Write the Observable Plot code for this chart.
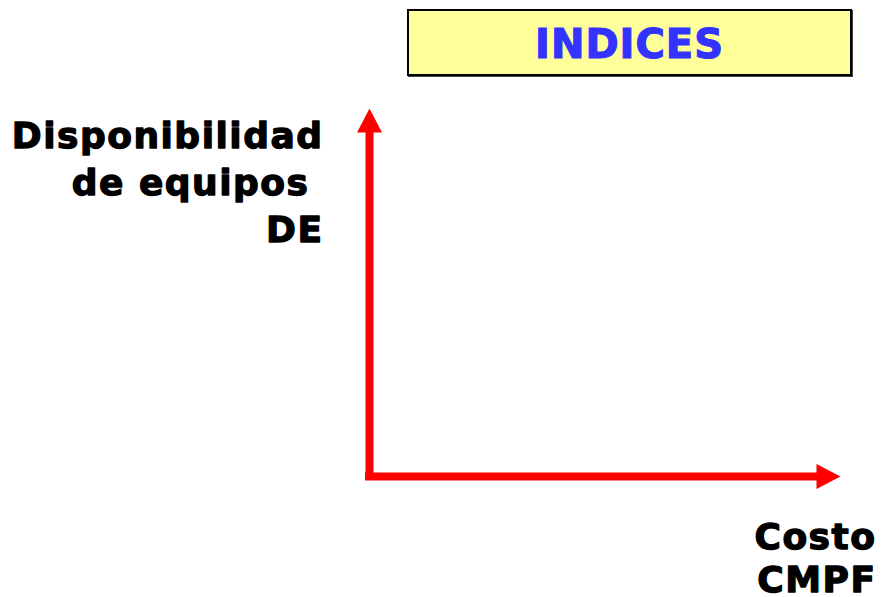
<!DOCTYPE html>
<html>
<head>
<meta charset="utf-8">
<script src="https://cdn.jsdelivr.net/npm/d3@7"></script>
<script src="https://cdn.jsdelivr.net/npm/@observablehq/plot@0.6"></script>
<style>
  html, body { margin: 0; padding: 0; background: #fff; }
  #title {
    margin: 9px 0 4px 407px;
    width: 445px; height: 67px;
    box-sizing: border-box;
    border: 2px solid #000;
    box-shadow: 1px 1px 0 #444;
    background: #ffff99;
    color: #3333ff;
    font: bold 40px "DejaVu Sans", sans-serif;
    letter-spacing: 1px;
    -webkit-text-stroke: 1.2px #3333ff;
    text-align: center;
    line-height: 66px;
  }
  #chart svg { display: block; }
  #chart svg text { letter-spacing: 1.5px; white-space: pre; }
</style>
</head>
<body>
<div id="title"></div>
<div id="chart"></div>
<script>
// ---- content ----
const titleText = "INDICES";
const yLabelLines = ["Disponibilidad", "de equipos ", "DE"];
const xLabelLines = ["Costo", "CMPF"];
// axes in abstract units: origin at 0, arrow tips at 1
const axisNames = ["x", "y"];
const axisStart = [0, 0];
const axisEnd = [1, 1];

document.getElementById("title").textContent = titleText;

// filled arrowhead symbol: tip at the point, pointing up
const arrowHead = {
  draw(ctx) {
    ctx.moveTo(0, 0);
    ctx.lineTo(12.5, 24);
    ctx.lineTo(-12.5, 24);
    ctx.closePath();
  }
};

const yAxis = [{x: axisStart[0], y1: axisEnd[1], y2: axisStart[1]}];
const xAxis = [{y: axisStart[1], x1: axisStart[0], x2: axisEnd[0]}];
const heads = [
  {x: axisStart[0], y: axisEnd[1], rotate: 0},
  {x: axisEnd[0], y: axisStart[1], rotate: 90}
];
const yLabel = [{x: axisStart[0], y: axisEnd[1], text: yLabelLines.join("\n")}];
const xLabel = [{x: axisEnd[0], y: axisStart[1], text: xLabelLines.join("\n")}];

const chart = Plot.plot({
  width: 881,
  height: 517,
  margin: 0,
  x: {domain: [0, 1], range: [369, 840], axis: null},
  y: {domain: [0, 1], range: [396, 28], axis: null},
  style: {fontFamily: "DejaVu Sans, sans-serif", background: "#fff", overflow: "visible"},
  marks: [
    Plot.ruleX(yAxis, {x: "x", y1: "y1", y2: "y2", stroke: "#ff0000", strokeWidth: 8, insetTop: 20, insetBottom: -4}),
    Plot.ruleY(xAxis, {y: "y", x1: "x1", x2: "x2", stroke: "#ff0000", strokeWidth: 8, insetLeft: -4, insetRight: 20}),
    Plot.dot(heads, {x: "x", y: "y", rotate: "rotate", symbol: arrowHead, fill: "#ff0000", stroke: "none"}),
    Plot.text(yLabel, {x: "x", y: "y", text: "text", dx: -46, dy: 133, textAnchor: "end", lineAnchor: "bottom",
      lineHeight: 1.3, fontSize: 36, fontWeight: "bold", fill: "#000", stroke: "#000", strokeWidth: 1.3}),
    Plot.text(xLabel, {x: "x", y: "y", text: "text", dx: 36, dy: 115, textAnchor: "end", lineAnchor: "bottom",
      lineHeight: 1.17, fontSize: 36, fontWeight: "bold", fill: "#000", stroke: "#000", strokeWidth: 1.3})
  ]
});
document.getElementById("chart").appendChild(chart);
</script>
</body>
</html>
